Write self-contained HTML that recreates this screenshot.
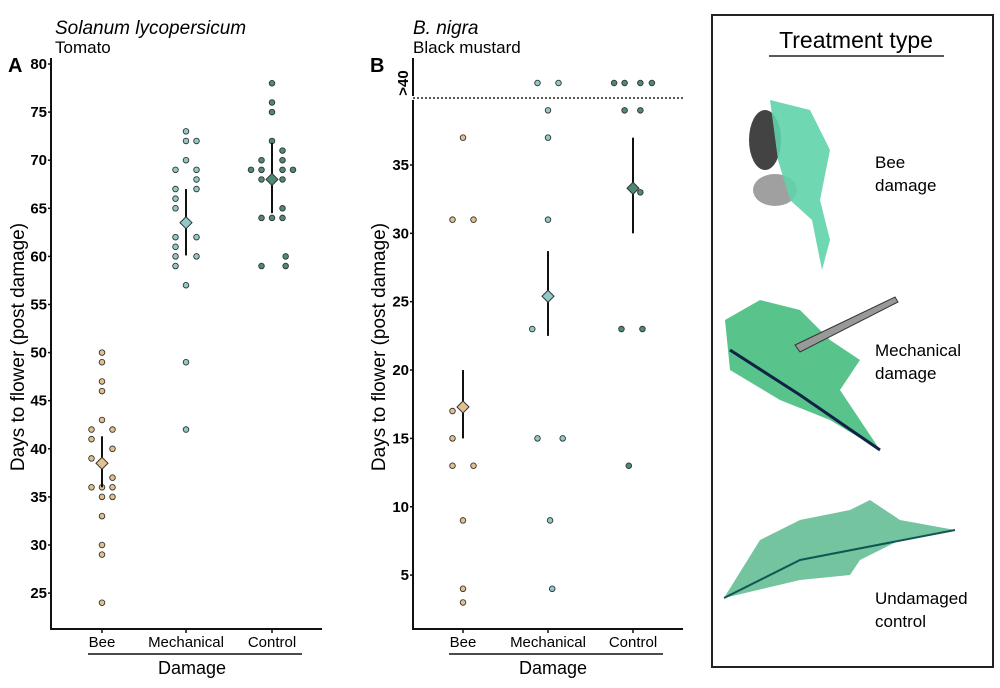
<!DOCTYPE html>
<html><head><meta charset="utf-8"><style>
body{margin:0;background:#fff;width:1000px;height:683px;overflow:hidden;font-family:"Liberation Sans",sans-serif}
</style></head><body>
<svg id="fig" width="1000" height="683" viewBox="0 0 1000 683" xmlns="http://www.w3.org/2000/svg" font-family="Liberation Sans, sans-serif">
<text x="55" y="34" font-size="19" font-style="italic">Solanum lycopersicum</text>
<text x="55" y="53" font-size="17">Tomato</text>
<text x="8" y="72" font-size="20" font-weight="bold">A</text>
<text x="413" y="34" font-size="19" font-style="italic">B. nigra</text>
<text x="413" y="53" font-size="17">Black mustard</text>
<text x="370" y="72" font-size="20" font-weight="bold">B</text>
<text transform="translate(24,347) rotate(-90)" text-anchor="middle" font-size="19">Days to flower (post damage)</text>
<text transform="translate(385,347) rotate(-90)" text-anchor="middle" font-size="19">Days to flower (post damage)</text>
<g id="ga"></g>
<g id="gb"></g>
<g>
<rect x="712" y="15" width="281" height="652" fill="none" stroke="#222" stroke-width="2"/>
<text x="856" y="48" text-anchor="middle" font-size="23">Treatment type</text>
<line x1="769" y1="56" x2="944" y2="56" stroke="#222" stroke-width="1.5"/>
<g>
<ellipse cx="765" cy="140" rx="16" ry="30" fill="#222" opacity="0.85"/>
<ellipse cx="775" cy="190" rx="22" ry="16" fill="#777" opacity="0.7"/>
<path d="M770 100 L810 110 L830 150 L820 200 L830 240 L822 270 L812 220 L790 200 L778 160 Z" fill="#5fd3a8" opacity="0.9"/>
</g>
<text x="875" y="168" font-size="17">Bee</text>
<text x="875" y="191" font-size="17">damage</text>
<g>
<path d="M725 320 L760 300 L800 310 L830 340 L860 360 L840 390 L880 450 L830 420 L780 400 L730 370 Z" fill="#3cb878" opacity="0.85"/>
<path d="M730 350 L800 395 L880 450" stroke="#124" stroke-width="3" fill="none"/>
<polygon points="795,345 895,297 898,302 800,352" fill="#999" stroke="#333"/>
</g>
<text x="875" y="356" font-size="17">Mechanical</text>
<text x="875" y="379" font-size="17">damage</text>
<g>
<path d="M724 598 L760 540 L800 520 L850 510 L870 500 L900 520 L955 530 L900 540 L860 560 L850 575 L800 580 Z" fill="#5cba8e" opacity="0.85"/>
<path d="M724 598 L800 560 L955 530" stroke="#155" stroke-width="2" fill="none"/>
</g>
<text x="875" y="604" font-size="17">Undamaged</text>
<text x="875" y="627" font-size="17">control</text>
</g>
</svg>
<script>
const categories=["Bee","Mechanical","Control"];
const colors=["#e3c08e","#8fcac8","#4f8a72"];
// Panel A values and horizontal jitter slots
const aBee=[50,49,47,46,43,42,42,41,40,39,37,36,36,36,35,35,33,30,29,24];
const aBeeSlot=[0,0,0,0,0,-1,1,-1,1,-1,1,-1,0,1,0,1,0,0,0,0];
const aMech=[73,72,72,70,69,69,68,67,67,66,65,62,62,61,60,60,59,57,49,42];
const aMechSlot=[0,0,1,0,-1,1,1,-1,1,-1,-1,-1,1,-1,-1,1,-1,0,0,0];
const aCtrl=[78,76,75,72,71,70,70,69,69,69,69,68,68,65,64,64,64,60,59,59];
const aCtrlSlot=[0,0,0,0,1,-1,1,-2,-1,1,2,-1,1,1,-1,0,1,1.3,-1,1.3];
const aMeans=[38.5,63.5,68];
const aLo=[36,60.1,64.5];
const aHi=[41.3,67,71.8];
const aTicks=[25,30,35,40,45,50,55,60,65,70,75,80];
// Panel B (41 = ">40")
const bBee=[37,31,31,17,15,13,13,9,4,3];
const bBeeSlot=[0,-1,1,-1,-1,-1,1,0,0,0];
const bMech=[41,41,39,37,31,23,15,15,9,4];
const bMechSlot=[-1,1,0,0,0,-1.5,-1,1.4,0.2,0.4];
const bCtrl=[41,41,41,41,39,39,33,23,23,13];
const bCtrlSlot=[-1.8,-0.8,0.7,1.8,-0.8,0.7,0.7,-1.1,0.9,-0.4];
const bMeans=[17.3,25.4,33.3];
const bLo=[15,22.5,30];
const bHi=[20,28.7,37];
const bTicks=[5,10,15,20,25,30,35];
const bTopLabel=">40";

const NS="http://www.w3.org/2000/svg";
function mk(p,t,a){const e=document.createElementNS(NS,t);for(const k in a)e.setAttribute(k,a[k]);p.appendChild(e);return e;}

function panel(g,o){
  const y=o.y;
  if(o.broken){
    const l1=mk(g,'line',{x1:o.x0,y1:58,x2:o.x0,y2:96,stroke:'#111','stroke-width':2});
    
    const l2=mk(g,'line',{x1:o.x0,y1:100,x2:o.x0,y2:o.yb,stroke:'#111','stroke-width':2});
    
    const d=mk(g,'line',{x1:o.x0,y1:98,x2:o.x1,y2:98,stroke:'#222','stroke-width':1.5,'stroke-dasharray':'2,2'});
    
    const tl=mk(g,'text',{x:0,y:0,transform:`translate(${o.x0-5},${y(41)}) rotate(-90)`,'text-anchor':'middle','font-size':15,'font-weight':'bold'});
    tl.textContent=bTopLabel;
  } else {
    const l=mk(g,'line',{x1:o.x0,y1:58,x2:o.x0,y2:o.yb,stroke:'#111','stroke-width':2});
    
  }
  const xl=mk(g,'line',{x1:o.x0-1,y1:o.yb,x2:o.x1,y2:o.yb,stroke:'#111','stroke-width':2});
  
  o.ticks.forEach(t=>{
    const tk=mk(g,'line',{x1:o.x0-3,y1:y(t),x2:o.x0,y2:y(t),stroke:'#111','stroke-width':1.5});
    
    const tx=mk(g,'text',{x:o.x0-4,y:y(t)+5,'text-anchor':'end','font-size':15,'font-weight':'bold'});
    tx.textContent=t;
  });
  categories.forEach((c,i)=>{
    const cx=o.cx[i];
    const tk=mk(g,'line',{x1:cx,y1:o.yb,x2:cx,y2:o.yb+4,stroke:'#111','stroke-width':1.5});
    
    const tx=mk(g,'text',{x:cx,y:o.yb+18,'text-anchor':'middle','font-size':15});
    tx.textContent=c;
    o.vals[i].forEach((v,j)=>{
      const p=mk(g,'circle',{cx:cx+o.slots[i][j]*10.5,cy:y(v),r:2.8,fill:colors[i],stroke:'#333','stroke-width':0.9});
      
    });
    const e=mk(g,'line',{x1:cx,y1:y(o.lo[i]),x2:cx,y2:y(o.hi[i]),stroke:'#111','stroke-width':2});
    
    const my=y(o.means[i]);
    const dm=mk(g,'polygon',{points:`${cx},${my-6} ${cx+6},${my} ${cx},${my+6} ${cx-6},${my}`,fill:colors[i],stroke:'#333','stroke-width':1});
    
  });
  const ul=mk(g,'line',{x1:o.cx[0]-14,y1:o.yb+25,x2:o.cx[2]+30,y2:o.yb+25,stroke:'#111','stroke-width':1.5});
  
  const xt=mk(g,'text',{x:(o.cx[0]+o.cx[2])/2+5,y:o.yb+45,'text-anchor':'middle','font-size':18});
  xt.textContent='Damage';
}
panel(document.getElementById('ga'),{x0:51,x1:322,yb:629,y:v=>64+(80-v)*9.62,ticks:aTicks,cx:[102,186,272],
  vals:[aBee,aMech,aCtrl],slots:[aBeeSlot,aMechSlot,aCtrlSlot],means:aMeans,lo:aLo,hi:aHi});
panel(document.getElementById('gb'),{x0:413,x1:683,yb:629,broken:true,y:v=>v>40?83:165+(35-v)*13.67,ticks:bTicks,cx:[463,548,633],
  vals:[bBee,bMech,bCtrl],slots:[bBeeSlot,bMechSlot,bCtrlSlot],means:bMeans,lo:bLo,hi:bHi});
</script>
</body></html>
